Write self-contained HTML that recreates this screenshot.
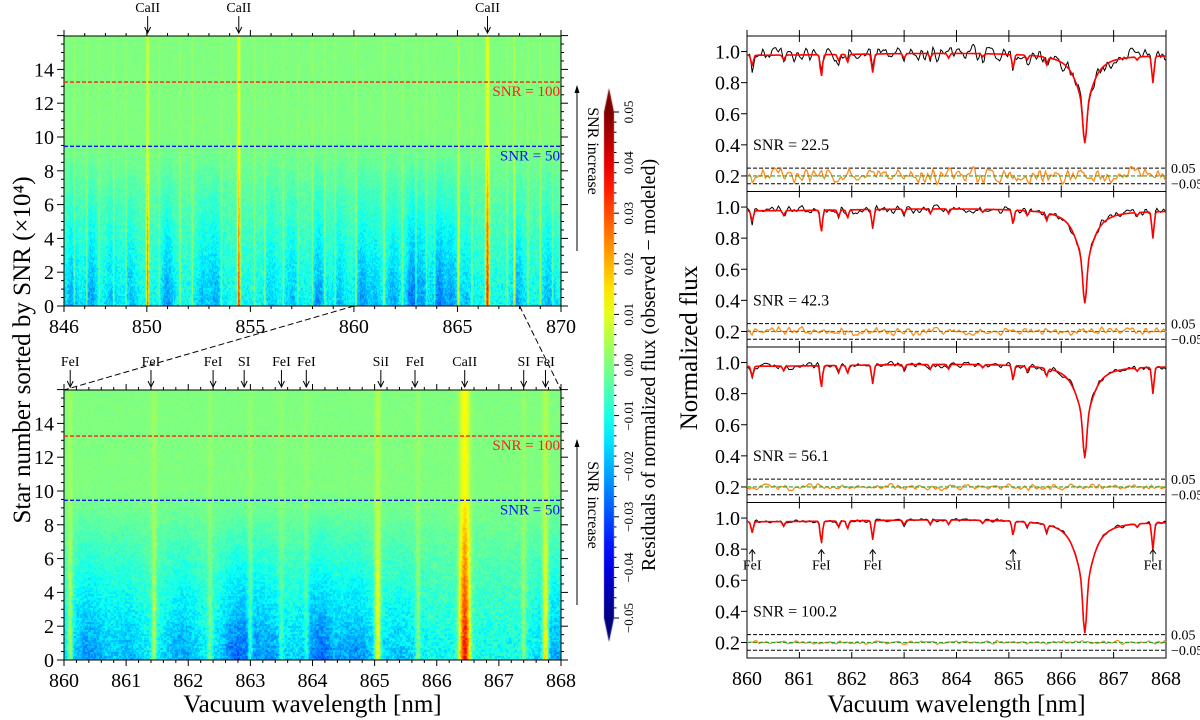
<!DOCTYPE html>
<html><head><meta charset="utf-8">
<style>
html,body{margin:0;padding:0;background:#fff;}
#wrap{position:relative;width:1200px;height:720px;overflow:hidden;font-family:"Liberation Serif",serif;}
canvas,svg{position:absolute;left:0;top:0;}
text{font-family:"Liberation Serif",serif;fill:#000;}
</style></head>
<body>
<div id="wrap">
<canvas id="cv" width="1200" height="720"></canvas>
<svg id="sv" width="1200" height="720" xmlns="http://www.w3.org/2000/svg"></svg>
</div>
<script>
// ---------- data ----------
const lineCenters = [846.5,847.1,847.7,848.4,849.0,850.04,850.6,851.6,852.2,853.6,854.44,855.2,855.7,856.6,857.3,858.0,858.6,859.1,860.1,861.45,862.35,863.0,863.5,863.9,865.05,865.7,866.45,867.4,867.75,868.4,869.0,869.6];
const lineAmps    = [0.005,0.006,0.005,0.006,0.005,0.026,0.005,0.007,0.006,0.006,0.028,0.005,0.006,0.006,0.005,0.006,0.006,0.005,0.008,0.008,0.005,0.005,0.004,0.004,0.012,0.006,0.032,0.006,0.012,0.006,0.008,0.005];
const lineWidths  = [0.04,0.04,0.04,0.04,0.04,0.06,0.04,0.04,0.04,0.04,0.07,0.04,0.04,0.04,0.04,0.04,0.04,0.04,0.04,0.04,0.04,0.04,0.04,0.04,0.05,0.04,0.08,0.04,0.05,0.04,0.04,0.04];
const blueCenters = [846.4,847.3,848.3,849.2,851.0,852.7,853.3,856.0,857.0,858.3,859.3,860.4,861.0,861.9,862.8,863.3,864.1,864.7,865.4,867.9,869.4];
const blueWeights = [0.8,0.9,0.6,0.6,0.9,0.6,0.8,0.5,0.6,0.9,0.6,0.9,0.6,0.8,1.2,0.8,1.2,0.9,0.5,0.8,0.7];
const snrLines = [13.25, 9.45];
const snrLabels = ["SNR = 100","SNR = 50"];
const topAnnW = [850.04,854.44,866.45];
const topAnnL = ["CaII","CaII","CaII"];
const botAnnW = [860.1,861.4,862.4,862.9,863.5,863.9,865.1,865.65,866.45,867.4,867.75];
const botAnnL = ["FeI","FeI","FeI","SI","FeI","FeI","SiI","FeI","CaII","SI","FeI"];
const topXTicks = [846,850,855,860,865,870];
const botXTicks = [860,861,862,863,864,865,866,867,868];
const yTicks = [0,2,4,6,8,10,12,14];
const cbTicks = [-0.05,-0.04,-0.03,-0.02,-0.01,0.00,0.01,0.02,0.03,0.04,0.05];
// spectra
const specW = [860.1,860.7,861.42,861.75,861.92,862.4,863.0,863.5,863.85,864.5,865.08,865.35,865.72,867.45,867.75];
const specD = [0.07,0.03,0.14,0.04,0.05,0.12,0.03,0.03,0.03,0.02,0.09,0.03,0.05,0.02,0.17];
const panelSNR = [22.5,42.3,56.1,100.2];
const panelCaDepth = [0.57,0.60,0.59,0.72];
const specAnnW = [860.1,861.42,862.4,865.08,867.75];
const specAnnL = ["FeI","FeI","FeI","SiI","FeI"];
const specYTicks = [0.2,0.4,0.6,0.8,1.0];

// ---------- helpers ----------
const NS="http://www.w3.org/2000/svg";
const sv=document.getElementById('sv');
function mk(tag,attrs,name,parent){
  const e=document.createElementNS(NS,tag);
  for(const k in attrs) e.setAttribute(k,attrs[k]);
  
  
  (parent||sv).appendChild(e);
  return e;
}
function txt(x,y,s,size,name,extra){
  const a=Object.assign({x:x,y:y,'font-size':size},extra||{});
  const t=mk('text',a,name);
  t.textContent=s;return t;
}
function hash(i,j){let h=Math.sin(i*127.1+j*311.7)*43758.5453;return h-Math.floor(h);}
function jet(t){t=Math.max(0,Math.min(1,t));
  const c=v=>Math.round(255*Math.max(0,Math.min(1,v)));
  return [c(1.5-Math.abs(4*t-3)),c(1.5-Math.abs(4*t-2)),c(1.5-Math.abs(4*t-1))];}
function sq(a){return a*a;}

// ---------- heatmap model ----------
function resid(w,r,col,row){
  const f=Math.max(0,Math.min(1,1-r/10));
  let ls=0;
  for(let k=0;k<lineCenters.length;k++){const d=(w-lineCenters[k])/lineWidths[k];if(Math.abs(d)<4)ls+=lineAmps[k]*Math.exp(-d*d);}
  let b=0;
  for(let k=0;k<blueCenters.length;k++){const d=(w-blueCenters[k])/0.3;if(Math.abs(d)<4)b+=blueWeights[k]*Math.exp(-d*d);}
  b=Math.min(b,1.5);
  const g=Math.pow(f,1.1);
  const shield=Math.max(0,1-ls/0.012);
  let v=ls*(0.4+0.75*f)-0.013*g*(0.9+b)*shield;
  v+=(hash(col,Math.floor(row/2))-0.5)*0.009*(0.25+f)+(hash(Math.floor(col/3),row)-0.5)*0.004*f;
  return v;
}
const cv=document.getElementById('cv');const ctx=cv.getContext('2d');
function drawHeat(x0,y0,x1,y1,w0,w1){
  const Wd=x1-x0,Ht=y1-y0;
  const img=ctx.createImageData(Wd,Ht);
  for(let j=0;j<Ht;j++){
    const r=(y1-(y0+j+0.5))/16.9;
    for(let i=0;i<Wd;i++){
      const w=w0+(i+0.5)/Wd*(w1-w0);
      const v=resid(w,r,Math.round((w-846)*40),j);
      const c=jet((v+0.05)/0.1);
      const p=(j*Wd+i)*4;img.data[p]=c[0];img.data[p+1]=c[1];img.data[p+2]=c[2];img.data[p+3]=255;
    }
  }
  ctx.putImageData(img,x0,y0);
}
const TP={x0:64,x1:561,y0:36,y1:306,w0:846,w1:870};
const BP={x0:64,x1:561,y0:390,y1:660,w0:860,w1:868};
drawHeat(TP.x0,TP.y0,TP.x1,TP.y1,TP.w0,TP.w1);
drawHeat(BP.x0,BP.y0,BP.x1,BP.y1,BP.w0,BP.w1);

function heatAxes(P,xt,minorStep,ann,annL,pre){
  const X=w=>P.x0+(w-P.w0)/(P.w1-P.w0)*(P.x1-P.x0);
  const Y=v=>P.y1-v*16.9;
  mk('rect',{x:P.x0,y:P.y0,width:P.x1-P.x0,height:P.y1-P.y0,fill:'none',stroke:'#000','stroke-width':1},pre+'-frame');
  for(let w=P.w0;w<=P.w1+1e-6;w+=minorStep){
    const maj=xt.some(t=>Math.abs(t-w)<1e-6);const L=maj?6:3;
    mk('line',{x1:X(w),x2:X(w),y1:P.y1,y2:P.y1+L,stroke:'#000'},pre+'-x-tick');
    mk('line',{x1:X(w),x2:X(w),y1:P.y0,y2:P.y0-L,stroke:'#000'},pre+'-x-tick-top');
  }
  xt.forEach(t=>txt(X(t),P.y1+27,String(t),20,pre+'-x-label',{'text-anchor':'middle'}));
  for(let v=0;v<=16;v+=0.5){
    const maj=v%2===0;const L=maj?7:3;
    mk('line',{x1:P.x0,x2:P.x0-L,y1:Y(v),y2:Y(v),stroke:'#000'},pre+'-y-tick');
    mk('line',{x1:P.x1,x2:P.x1+L,y1:Y(v),y2:Y(v),stroke:'#000'},pre+'-y-tick-right');
  }
  yTicks.forEach(t=>txt(P.x0-10,Y(t)+7,String(t),20,pre+'-y-label',{'text-anchor':'end'}));
  const cols=['#ff2020','#1010ff'];
  snrLines.forEach((s,i)=>{
    mk('line',{x1:P.x0,x2:P.x1,y1:Y(s),y2:Y(s),stroke:cols[i],'stroke-width':1.3,'stroke-dasharray':'4,2'},pre+'-snr-line');
    txt(P.x1-1,Y(s)+14,snrLabels[i],15,pre+'-snr-label',{'text-anchor':'end',fill:cols[i],style:'fill:'+cols[i]});
  });
  ann.forEach((w,i)=>{
    txt(X(w),P.y0-24,annL[i],14,pre+'-line-label',{'text-anchor':'middle'});
    mk('line',{x1:X(w),x2:X(w),y1:P.y0-20,y2:P.y0-4,stroke:'#000'},pre+'-line-arrow');
    mk('path',{d:'M'+(X(w)-3)+','+(P.y0-9)+' L'+X(w)+','+(P.y0-3)+' L'+(X(w)+3)+','+(P.y0-9),fill:'none',stroke:'#000'},pre+'-arrow-head');
  });
  const ax=P.x1+16;
  mk('line',{x1:ax,x2:ax,y1:P.y1-55,y2:P.y0+50,stroke:'#000'},pre+'-snr-increase-arrow');
  mk('path',{d:'M'+(ax-2.5)+','+(P.y0+57)+' L'+ax+','+(P.y0+49)+' L'+(ax+2.5)+','+(P.y0+57)+'Z',fill:'#000'},pre+'-snr-increase-head');
  txt(0,0,'SNR increase',16,pre+'-snr-increase-label',{transform:'translate('+(ax+11)+','+((P.y0+P.y1)/2-20)+') rotate(90)','text-anchor':'middle'});
  return X;
}
const TX=heatAxes(TP,topXTicks,1,topAnnW,topAnnL,'top-heatmap');
const BX=heatAxes(BP,botXTicks,0.2,botAnnW,botAnnL,'bottom-heatmap');
mk('line',{x1:TX(860),y1:TP.y1,x2:BP.x0,y2:BP.y0,stroke:'#000','stroke-dasharray':'6,3'},'zoom-connector-left');
mk('line',{x1:TX(868),y1:TP.y1,x2:BP.x1,y2:BP.y0,stroke:'#000','stroke-dasharray':'6,3'},'zoom-connector-right');
txt(BP.x0+(BP.x1-BP.x0)/2,BP.y1+52,'Vacuum wavelength [nm]',25,'left-x-axis-title',{'text-anchor':'middle'});
txt(0,0,'Star number sorted by SNR (\u00d710\u2074)',25,'left-y-axis-title',{transform:'translate(30,350) rotate(-90)','text-anchor':'middle'});

// colorbar
const CB={x0:604,x1:614,y0:112,y1:618};
const grd=ctx.createLinearGradient(0,CB.y1,0,CB.y0);
for(let s=0;s<=20;s++){const c=jet(s/20);grd.addColorStop(s/20,'rgb('+c[0]+','+c[1]+','+c[2]+')');}
ctx.fillStyle=grd;ctx.fillRect(CB.x0,CB.y0,CB.x1-CB.x0,CB.y1-CB.y0);
ctx.fillStyle='rgb(128,0,0)';ctx.beginPath();ctx.moveTo(CB.x0,CB.y0);ctx.lineTo(CB.x1,CB.y0);ctx.lineTo((CB.x0+CB.x1)/2,CB.y0-24);ctx.fill();
ctx.fillStyle='rgb(0,0,128)';ctx.beginPath();ctx.moveTo(CB.x0,CB.y1);ctx.lineTo(CB.x1,CB.y1);ctx.lineTo((CB.x0+CB.x1)/2,CB.y1+24);ctx.fill();
const CY=v=>CB.y1-(v+0.05)/0.1*(CB.y1-CB.y0);
for(let k=0;k<=50;k++){const v=-0.05+k*0.002;const maj=k%5===0;
  mk('line',{x1:CB.x1,x2:CB.x1+(maj?5:2.5),y1:CY(v),y2:CY(v),stroke:'#000'},'colorbar-tick');}
cbTicks.forEach(v=>{const s=(v<0?'\u2212':'')+Math.abs(v).toFixed(2);
  txt(0,0,s,13,'colorbar-label',{transform:'translate('+(CB.x1+19)+','+CY(v)+') rotate(-90)','text-anchor':'middle'});});
txt(0,0,'Residuals of normalized flux (observed \u2212 modeled)',20,'colorbar-title',{transform:'translate('+(CB.x1+41)+','+((CB.y0+CB.y1)/2)+') rotate(-90)','text-anchor':'middle'});

// ---------- spectra panels ----------
const RX0=747,RX1=1166,PH=155.5,PT=36;
const RX=w=>RX0+(w-860)/8*(RX1-RX0);
function model(w,ca){
  let f=0.975+0.015*Math.exp(-sq((w-864)/2.5));
  for(let k=0;k<specW.length;k++){const d=(w-specW[k])/0.03;f-=specD[k]*Math.exp(-d*d);}
  const dc=w-866.45;
  f-=ca*(0.45*Math.exp(-sq(dc/0.05))+0.55/(1+sq(dc/0.2)));
  return f;
}
const NP=320;
for(let p=0;p<4;p++){
  const T=PT+p*PH;const RY=f=>T+(1.1-f)*PH;
  const pre='spectrum-panel-'+(p+1);
  mk('rect',{x:RX0,y:T,width:RX1-RX0,height:PH,fill:'none',stroke:'#000','stroke-width':1},pre+'-frame');
  botXTicks.forEach(w=>{
    mk('line',{x1:RX(w),x2:RX(w),y1:T+PH,y2:T+PH-6,stroke:'#000'},pre+'-x-tick');
    mk('line',{x1:RX(w),x2:RX(w),y1:T,y2:T+6,stroke:'#000'},pre+'-x-tick-top');
  });
  if(p===0) botXTicks.forEach(w=>mk('line',{x1:RX(w),x2:RX(w),y1:T,y2:T-6,stroke:'#000'},'top-x-tick-outer'));
  specYTicks.forEach(v=>{
    mk('line',{x1:RX0,x2:RX0-6,y1:RY(v),y2:RY(v),stroke:'#000'},pre+'-y-tick');
    txt(RX0-7,RY(v)+7,v.toFixed(1),20,pre+'-y-label',{'text-anchor':'end'});
  });
  const ca=panelCaDepth[p];const sig=1.0/panelSNR[p];
  const raw=[];for(let i=0;i<=NP+1;i++)raw.push((hash(i,p*17+3)-0.5)*2*sig*1.4);
  let pm='',po='',pr='';
  for(let i=0;i<=NP;i++){
    const w=860+i*8/NP;const m=model(w,ca);
    const n=0.3*raw[Math.max(0,i-1)]+0.5*raw[i]+0.3*raw[i+1];
    pm+=(i?'L':'M')+RX(w).toFixed(1)+','+RY(m).toFixed(1);
    po+=(i?'L':'M')+RX(w).toFixed(1)+','+RY(m+n).toFixed(1);
    pr+=(i?'L':'M')+RX(w).toFixed(1)+','+RY(0.2+n).toFixed(1);
  }
  [0.25,0.15].forEach((v,k)=>{
    mk('line',{x1:RX0,x2:RX1,y1:RY(v),y2:RY(v),stroke:'#000','stroke-dasharray':'4,2'},pre+'-residual-bound');
    txt(RX1+5,RY(v)+5,k?'\u22120.05':'0.05',14,pre+'-bound-label');
  });
  mk('path',{d:pr,fill:'none',stroke:'#ff8c1a','stroke-width':1.3},pre+'-residuals');
  mk('line',{x1:RX0,x2:RX1,y1:RY(0.2),y2:RY(0.2),stroke:'#2ca02c','stroke-dasharray':'4,2','stroke-width':1.2},pre+'-zero-line');
  mk('path',{d:po,fill:'none',stroke:'#000','stroke-width':1},pre+'-observed');
  mk('path',{d:pm,fill:'none',stroke:'#ff0000','stroke-width':1.6},pre+'-model');
  txt(RX0+6,RY(0.4)+5,'SNR = '+panelSNR[p],16,pre+'-snr-label');
  if(p===3){
    specAnnW.forEach((w,i)=>{
      const x=RX(w);
      mk('line',{x1:x,x2:x,y1:RY(0.79),y2:RY(0.72),stroke:'#000'},'spectrum-line-arrow');
      mk('path',{d:'M'+(x-3)+','+RY(0.77)+' L'+x+','+(RY(0.79)-1)+' L'+(x+3)+','+RY(0.77),fill:'none',stroke:'#000'},'spectrum-arrow-head');
      txt(x,RY(0.67),specAnnL[i],14,'spectrum-line-label',{'text-anchor':'middle'});
    });
    botXTicks.forEach(w=>txt(RX(w),T+PH+27,String(w),20,'right-x-label',{'text-anchor':'middle'}));
  }
}
txt((RX0+RX1)/2,712,'Vacuum wavelength [nm]',25,'right-x-axis-title',{'text-anchor':'middle'});
txt(0,0,'Normalized flux',25,'right-y-axis-title',{transform:'translate(697,348) rotate(-90)','text-anchor':'middle'});
</script>
</body></html>
